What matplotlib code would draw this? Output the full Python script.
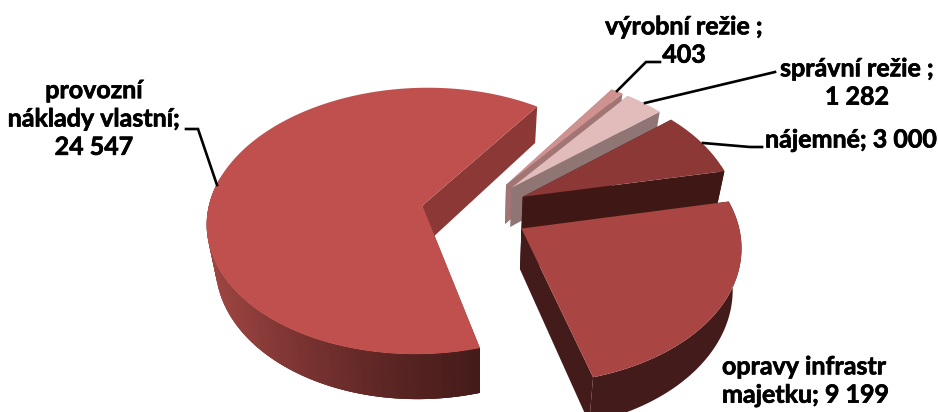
import numpy as np
import matplotlib
matplotlib.use('Agg')
import matplotlib.pyplot as plt
import matplotlib.patheffects as pe
from matplotlib.patches import Polygon
from matplotlib.colors import LinearSegmentedColormap

# hodnoty v poradi od zacatku vysece (proti smeru hodin)
kategorie = ['opravy', 'najemne', 'spravni', 'vyrobni', 'provozni']
hodnoty = [9199, 3000, 1282, 403, 24547]
barvy_horni = ['#A94542', '#8C3836', '#E2BCBB', '#CF9290', '#C0504D']
barvy_bok = ['#431B1A', '#3F1816', '#8F7675', '#A07574', '#8B3836']

popisky = ['provozní\nnáklady vlastní;\n24 547', 'opravy infrastr\nmajetku; 9 199',
           'nájemné; 3 000', 'správní režie ;\n1 282', 'výrobní režie ;\n403']
popisky_xy = [(94, 119), (722, 381), (851, 140), (857, 83), (684, 41)]
popisky_ha = ['center', 'left', 'center', 'center', 'center']
vodici = [[(217, 185), (198, 129), (186, 129)],
          [(703, 143), (750, 147), (762, 147)],
          [(645, 103), (775, 72)],
          [(617, 91), (646, 62), (660, 62)]]

# geometrie 3D kolace
CX, CY = 475, 211
RX, RY = 214.5, 132.7
K = 0.116
VYSKA = 40
ZUZENI = 0.033
EXPLODE = 0.25
START = -74.5

stin = LinearSegmentedColormap.from_list('stin', ['#9E4643', '#7A3331', '#5A2523', '#431B19'])


def projekce(u, v, z=0.0):
    s = 1 + K * v
    return CX + RX * u / s * (1 - ZUZENI * z), CY - RY * v / s + z * VYSKA / s


def body(stred, t, z=0.0):
    return projekce(stred[0] + np.cos(t), stred[1] + np.sin(t), z)


fig = plt.figure(figsize=(9.38, 4.12), dpi=100)
ax = fig.add_axes([0, 0, 1, 1])
ax.set_xlim(0, 938)
ax.set_ylim(412, 0)
ax.axis('off')

uhly = np.radians(START + np.cumsum([0] + hodnoty) / sum(hodnoty) * 360)

# vysece se kresli odzadu dopredu
for i in [4, 3, 2, 1, 0]:
    a, b = uhly[i], uhly[i + 1]
    stred_uhel = (a + b) / 2
    stred = (EXPLODE * np.cos(stred_uhel), EXPLODE * np.sin(stred_uhel))
    t = np.linspace(a, b, 200)

    # rezy
    for konec in [a, b]:
        x0, y0 = projekce(*stred)
        x1, y1 = projekce(*stred, 1)
        x2, y2 = body(stred, konec)
        x3, y3 = body(stred, konec, 1)
        ax.add_patch(Polygon([(x0, y0), (x2, y2), (x3, y3), (x1, y1)], fc=barvy_bok[i], ec='none'))

    # vnejsi stena, jen predni cast
    t_stena = t[np.sin(t) < 0.25]
    xh, yh = body(stred, t_stena)
    xd, yd = body(stred, t_stena, 1)
    if i == 4:
        # prechod zleva doprava, segmenty se prekryvaji at nejsou videt svisle prouzky
        poradi = np.arange(len(t_stena) - 1)
        for j in poradi:
            barva = stin((xh[j] - xh.min()) / (xh.max() - xh.min()))
            k = min(j + 3, len(t_stena) - 1)
            ax.add_patch(Polygon([(xh[j], yh[j]), (xh[k], yh[k]), (xd[k], yd[k]), (xd[j], yd[j])], fc=barva, ec='none'))
    elif len(t_stena) > 1:
        ax.add_patch(Polygon(np.column_stack([np.r_[xh, xd[::-1]], np.r_[yh, yd[::-1]]]), fc=barvy_bok[i], ec='none'))

    # horni plocha
    x0, y0 = projekce(*stred)
    xh, yh = body(stred, t)
    ax.add_patch(Polygon(np.column_stack([np.r_[x0, xh], np.r_[y0, yh]]), fc=barvy_horni[i], ec='none'))

for cara in vodici:
    ax.plot(*zip(*cara), color='black', lw=1.9, solid_joinstyle='miter')

for text, xy, ha in zip(popisky, popisky_xy, popisky_ha):
    ax.text(xy[0], xy[1], text, ha=ha, va='center', family='Lato', fontweight='bold', fontsize=18,
            linespacing=1.28, color='black',
            path_effects=[pe.withStroke(linewidth=0.5, foreground='black')])

fig.savefig('out.png', dpi=100)
